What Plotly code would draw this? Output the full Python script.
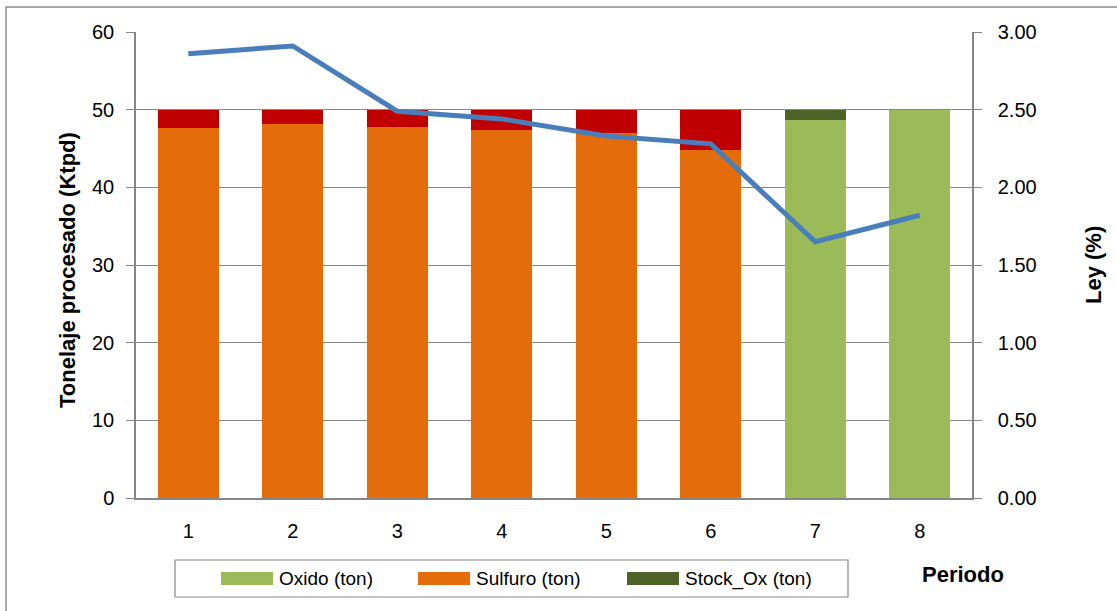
import plotly.graph_objects as go

# Tonnage processed per period (Ktpd), stacked by material type
periodos = [1, 2, 3, 4, 5, 6, 7, 8]
sulfuro = [47.6, 48.1, 47.8, 47.4, 47.0, 44.8, 0, 0]
stock_sulf = [2.4, 1.9, 2.2, 2.6, 3.0, 5.2, 0, 0]
oxido = [0, 0, 0, 0, 0, 0, 48.7, 50.0]
stock_ox = [0, 0, 0, 0, 0, 0, 1.3, 0]

# Head grade (%) per period
ley = [2.86, 2.91, 2.49, 2.44, 2.33, 2.28, 1.65, 1.82]

y_ticks = [0, 10, 20, 30, 40, 50, 60]
y2_ticks = [0, 0.5, 1.0, 1.5, 2.0, 2.5, 3.0]

C_OXIDO = "#9BBB59"
C_SULF = "#E46C0A"
C_STOCK_OX = "#4F6228"
C_STOCK_SULF = "#C00000"
C_LEY = "#4A7EBB"
C_AXIS = "#868686"
FONT = "Liberation Sans"

W, H = 1117, 611
L, R, T, B = 136, 145, 32, 113
PW, PH = W - L - R, H - T - B


def px(x):
    return (x - L) / PW


def py(y):
    return (H - B - y) / PH


fig = go.Figure()
fig.add_trace(go.Bar(x=periodos, y=sulfuro, name="Sulfuro (ton)",
                     marker=dict(color=C_SULF, line=dict(width=0)), showlegend=False))
fig.add_trace(go.Bar(x=periodos, y=stock_sulf, name="Stock_Sulf (ton)",
                     marker=dict(color=C_STOCK_SULF, line=dict(width=0)), showlegend=False))
fig.add_trace(go.Bar(x=periodos, y=oxido, name="Oxido (ton)",
                     marker=dict(color=C_OXIDO, line=dict(width=0)), showlegend=False))
fig.add_trace(go.Bar(x=periodos, y=stock_ox, name="Stock_Ox (ton)",
                     marker=dict(color=C_STOCK_OX, line=dict(width=0)), showlegend=False))
fig.add_trace(go.Scatter(x=periodos, y=ley, name="Ley (%)", mode="lines", yaxis="y2",
                         line=dict(color=C_LEY, width=5), showlegend=False))

tick_font = dict(family=FONT, size=20, color="#000000")

fig.update_layout(
    width=W, height=H, autosize=False,
    margin=dict(l=L, r=R, t=T, b=B, pad=0),
    paper_bgcolor="white", plot_bgcolor="white",
    barmode="stack", bargap=0.42,
    showlegend=False,
    xaxis=dict(range=[0.5, 8.5], tickvals=periodos, ticktext=[str(p) for p in periodos],
               showgrid=False, zeroline=False, showline=True, linecolor=C_AXIS, linewidth=1.5,
               ticks="", tickfont=tick_font, ticklabelstandoff=14),
    yaxis=dict(range=[0, 60], tickvals=y_ticks, showgrid=True, gridcolor=C_AXIS, gridwidth=1.2,
               zeroline=False, showline=True, linecolor=C_AXIS, linewidth=1.5,
               ticks="outside", ticklen=8, tickcolor=C_AXIS, tickwidth=1.2,
               tickfont=tick_font, ticklabelstandoff=8),
    yaxis2=dict(range=[0, 3], tickvals=y2_ticks, tickformat=".2f", overlaying="y", side="right",
                showgrid=False, zeroline=False, showline=True, linecolor=C_AXIS, linewidth=1.5,
                ticks="outside", ticklen=8, tickcolor=C_AXIS, tickwidth=1.2,
                tickfont=tick_font, ticklabelstandoff=12),
)

shapes = []
annotations = []

# Outer chart frame
shapes.append(dict(type="rect", xref="paper", yref="paper",
                   x0=px(6), x1=px(W + 10), y0=py(7), y1=py(H + 10),
                   line=dict(color="#8C8C8C", width=1.5), fillcolor="rgba(0,0,0,0)", layer="below"))

# Legend box with swatches
shapes.append(dict(type="rect", xref="paper", yref="paper",
                   x0=px(175), x1=px(848), y0=py(560), y1=py(597),
                   line=dict(color=C_AXIS, width=1.2), fillcolor="white"))
legend_items = [("Oxido (ton)", C_OXIDO, 221), ("Sulfuro (ton)", C_SULF, 418),
                ("Stock_Ox (ton)", C_STOCK_OX, 627)]
for label, color, x0 in legend_items:
    shapes.append(dict(type="rect", xref="paper", yref="paper",
                       x0=px(x0), x1=px(x0 + 52), y0=py(572), y1=py(585),
                       line=dict(width=0), fillcolor=color))
    annotations.append(dict(text=label, xref="paper", yref="paper", x=px(x0 + 56), y=py(578.5),
                            xanchor="left", yanchor="middle", showarrow=False,
                            font=dict(family=FONT, size=19, color="#000000")))

title_font = dict(family=FONT, size=22, color="#000000", weight="bold")
annotations.append(dict(text="Tonelaje procesado (Ktpd)", xref="paper", yref="paper",
                        x=px(67), y=py(270), textangle=-90, xanchor="center", yanchor="middle",
                        showarrow=False, font=title_font))
annotations.append(dict(text="Ley (%)", xref="paper", yref="paper",
                        x=px(1093), y=py(265), textangle=-90, xanchor="center", yanchor="middle",
                        showarrow=False, font=title_font))
annotations.append(dict(text="Periodo", xref="paper", yref="paper",
                        x=px(963), y=py(574), xanchor="center", yanchor="middle",
                        showarrow=False, font=title_font))

fig.update_layout(shapes=shapes, annotations=annotations)

fig.write_html("out.html")
